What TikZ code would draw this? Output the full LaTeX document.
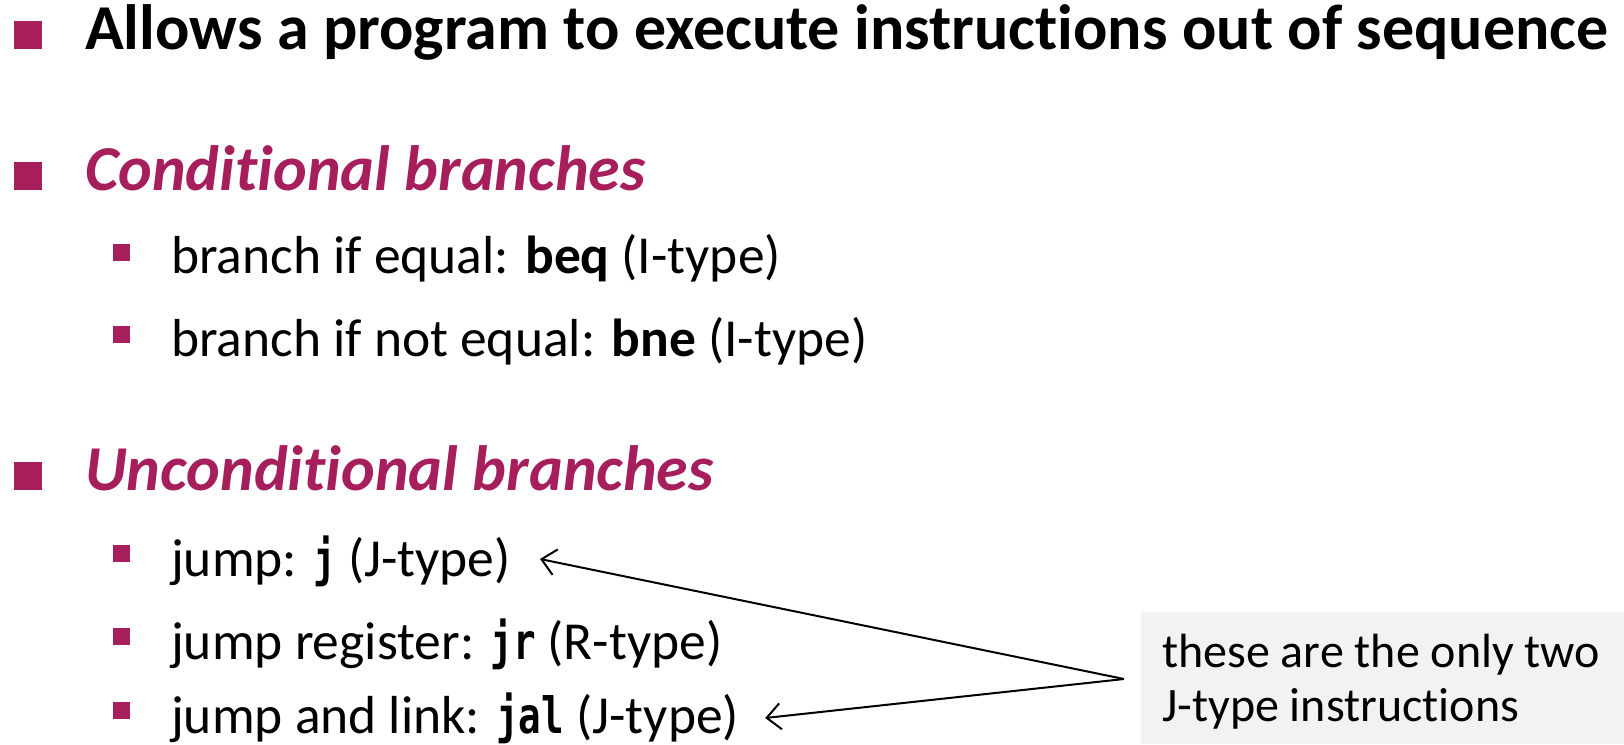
\documentclass[tikz,border=0pt]{standalone}
\usepackage{fontspec}
\setmainfont{Carlito}[Ligatures=NoCommon]
\newfontfamily\codefont[FakeStretch=0.75]{DejaVu Sans Mono}
\usetikzlibrary{arrows.meta}
\definecolor{accent}{RGB}{166,30,91}
\definecolor{notebg}{RGB}{242,242,242}
\newcommand{\cmd}[1]{{\codefont\bfseries\fontsize{50}{60}\selectfont #1}}
\begin{document}
\begin{tikzpicture}[x=1pt,y=-1pt,
  toptext/.style={anchor=base west,inner sep=0pt,font=\fontsize{64}{76}\selectfont\bfseries},
  headtext/.style={anchor=base west,inner sep=0pt,text=accent,font=\fontsize{64}{76}\selectfont\bfseries\itshape},
  itemtext/.style={anchor=base west,inner sep=0pt,font=\fontsize{53.5}{64}\selectfont},
  notetext/.style={anchor=base west,inner sep=0pt,font=\fontsize{48}{58}\selectfont},
  bigmark/.style={fill=accent,minimum size=28pt,inner sep=0pt,anchor=south west},
  smallmark/.style={fill=accent,minimum size=17pt,inner sep=0pt,anchor=south west},
  pointer/.style={line width=2pt,-{Straight Barb[length=14pt,width=26pt,line width=2pt]}}]
\useasboundingbox (0,0) rectangle (1624,744);
% note panel
\fill[notebg] (1141,612) rectangle (1624,744);
\node[notetext] (note1) at (1162,667) {these are the only two};
\node[notetext] (note2) at (1162,721) {J-type instructions};
% top-level bullets
\node[bigmark] (m0) at (14,49) {};
\node[toptext] (t0) at (85,49) {Allows a program to execute instructions out of sequence};
\node[bigmark] (m1) at (14,190) {};
\node[headtext] (t1) at (85,190) {Conditional branches};
\node[bigmark] (m2) at (14,490) {};
\node[headtext] (t2) at (85,490) {Unconditional branches};
% second-level bullets
\node[smallmark] (s1) at (113,261) {};
\node[itemtext] (beq) at (171,273) {branch if equal: \textbf{beq} (I-type)};
\node[smallmark] (s2) at (113,343) {};
\node[itemtext] (bne) at (171,356) {branch if not equal: \textbf{bne} (I-type)};
\node[smallmark] (s3) at (113,562) {};
\node[itemtext] (jmp) at (171,576) {jump: \cmd{j} (J-type)};
\node[smallmark] (s4) at (113,645) {};
\node[itemtext] (jr) at (171,659) {jump register: \cmd{jr} (R-type)};
\node[smallmark] (s5) at (113,719) {};
\node[itemtext] (jal) at (171,733) {jump and link: \cmd{jal} (J-type)};
% pointers from the note
\coordinate (meet) at (1124,679);
\draw[pointer] (meet) -- ([xshift=29pt]jmp.east |- 0,559);
\draw[pointer] (meet) -- ([xshift=26pt]jal.east |- 0,718);
\end{tikzpicture}
\end{document}
